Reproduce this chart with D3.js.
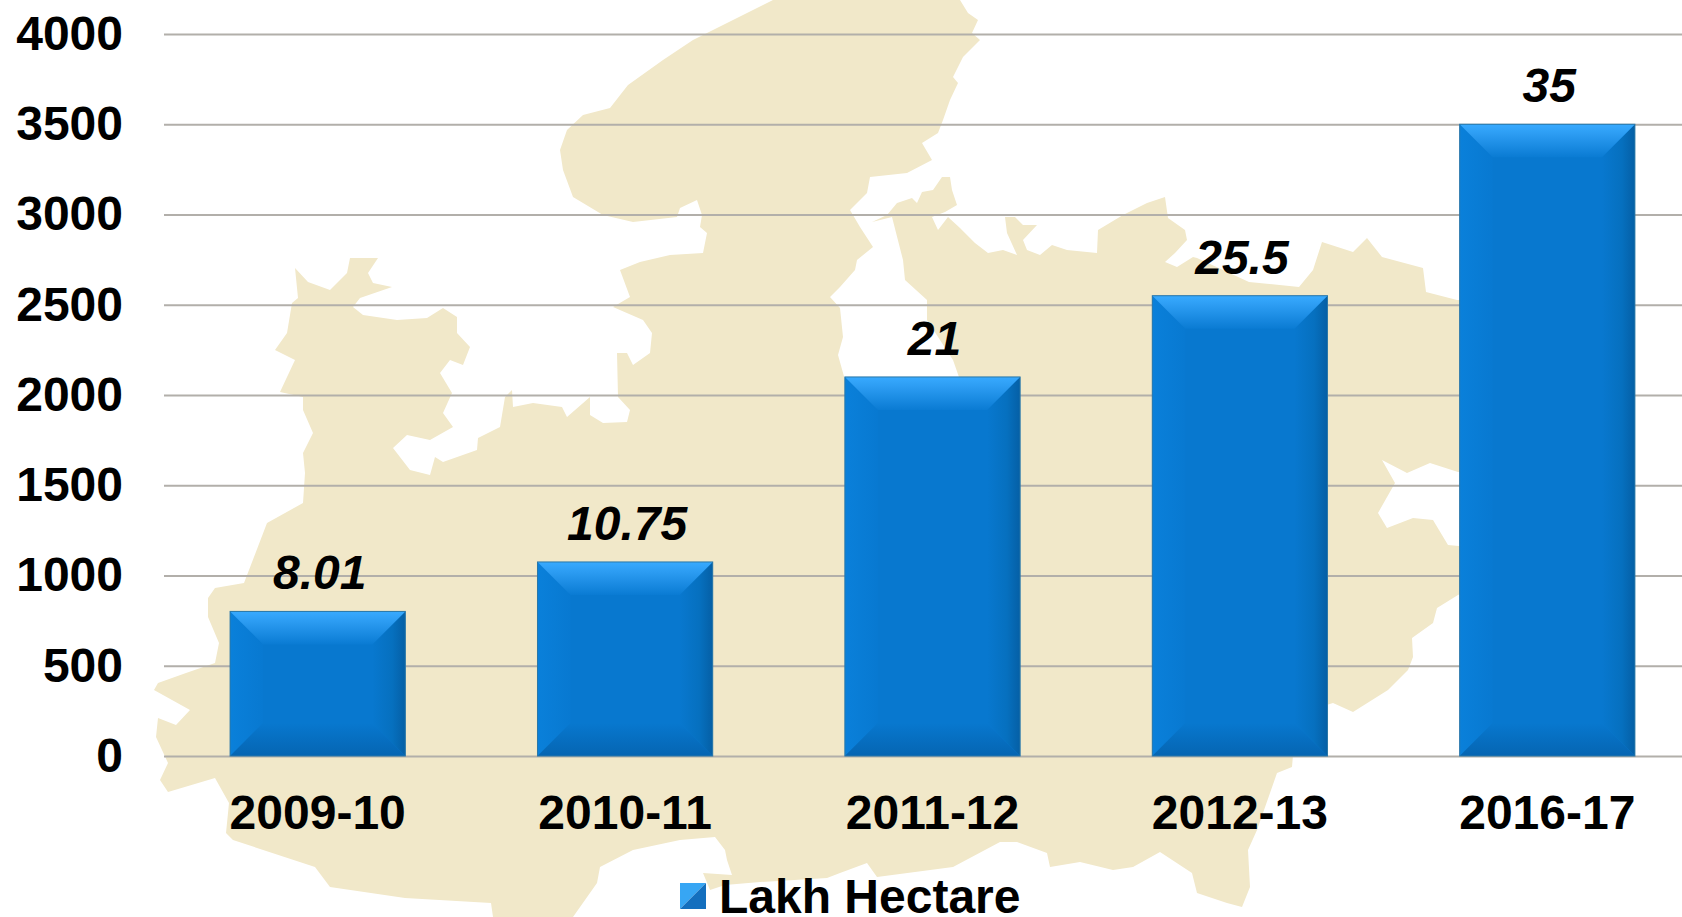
<!DOCTYPE html>
<html>

<head>
  <meta charset="UTF-8">
  <script src="https://d3js.org/d3.v7.js"></script>
  <style>
    html, body { margin: 0; padding: 0; background: #fff; overflow: hidden; }
    text { font-family: "Liberation Sans", Arial, sans-serif; font-weight: bold; fill: #000; }
  </style>
</head>

<body>
  <div id="chart"></div>

  <script>
    // data

    const years = ["2009-10", "2010-11", "2011-12", "2012-13", "2016-17"];
    const barValues = [801, 1075, 2100, 2550, 3500];
    const barLabels = ["8.01", "10.75", "21", "25.5", "35"];
    const yTicks = [0, 500, 1000, 1500, 2000, 2500, 3000, 3500, 4000];
    const seriesName = "Lakh Hectare";

    // backdrop map, traced in page pixels
    const mapOutline = [
      [960,0],[968,13],[978,20],[972,33],[980,40],[963,57],[953,77],[958,83],[950,100],[943,120],[938,133],
      [922,143],[932,160],[907,173],[870,177],[867,193],[850,210],[860,227],[873,247],[857,260],[855,270],
      [840,287],[830,297],[840,308],[843,337],[838,355],[845,380],[960,380],[953,360],[927,320],[927,300],
      [905,280],[903,260],[892,217],[872,222],[887,215],[897,203],[912,198],[917,203],[922,192],[933,190],
      [942,177],[950,177],[952,190],[957,205],[945,212],[932,217],[938,230],[948,217],[960,228],[970,238],
      [975,243],[988,253],[1003,250],[1017,255],[1007,233],[1005,217],[1015,217],[1023,225],[1037,225],
      [1023,240],[1027,250],[1040,255],[1052,245],[1067,250],[1097,253],[1098,230],[1123,215],[1147,203],
      [1165,197],[1168,218],[1185,230],[1187,240],[1175,253],[1165,262],[1177,267],[1193,257],[1197,258],
      [1249,282],[1299,287],[1313,270],[1322,242],[1353,252],[1367,238],[1382,257],[1423,268],[1426,292],
      [1457,300],[1470,300],[1470,472],[1458,472],[1430,463],[1407,473],[1382,460],[1395,483],[1378,513],
      [1387,528],[1413,518],[1433,520],[1448,545],[1470,547],[1470,590],[1458,595],[1437,608],[1433,623],
      [1412,638],[1413,657],[1408,670],[1388,690],[1353,712],[1333,703],[1320,707],[1293,755],[1292,767],
      [1277,773],[1270,793],[1257,830],[1248,850],[1250,887],[1242,907],[1227,903],[1197,893],[1192,873],
      [1160,852],[1133,867],[1113,870],[1080,862],[1050,867],[1047,853],[1017,842],[1000,842],[953,867],
      [877,877],[867,863],[840,873],[827,878],[760,882],[725,885],[710,890],[703,873],[732,875],[727,860],
      [725,850],[715,837],[680,840],[633,850],[600,867],[597,883],[573,917],[493,917],[491,903],[405,898],
      [330,887],[315,867],[233,840],[226,833],[229,803],[215,778],[168,792],[160,780],[168,763],[156,737],
      [158,718],[176,725],[190,710],[172,700],[154,690],[158,683],[186,673],[215,663],[219,643],[208,617],
      [208,598],[215,588],[244,583],[267,523],[303,503],[305,473],[303,453],[313,433],[303,410],[303,397],
      [280,392],[295,360],[275,350],[287,333],[292,303],[298,298],[295,268],[308,282],[330,290],[347,273],
      [350,258],[378,258],[368,273],[373,283],[392,287],[360,298],[353,307],[363,315],[397,320],[427,318],
      [443,308],[457,317],[457,333],[470,347],[463,365],[450,360],[440,373],[452,393],[443,413],[453,427],
      [430,440],[407,435],[393,448],[410,470],[430,475],[435,457],[443,462],[477,450],[478,438],[500,427],
      [505,397],[512,390],[513,407],[533,403],[562,407],[567,417],[590,397],[590,415],[603,423],[627,422],
      [630,410],[618,397],[617,353],[627,353],[633,365],[650,353],[652,333],[643,320],[613,307],[630,297],
      [620,270],[640,262],[670,255],[703,253],[707,233],[700,227],[702,215],[697,200],[680,208],[677,217],
      [633,222],[603,215],[573,197],[563,170],[560,150],[567,130],[583,115],[610,108],[628,85],[663,60],
      [693,40],[713,30],[743,15],[773,0]
    ];

    // set up

    const width = 1682;
    const height = 917;
    const fontSize = 48;
    const bevel = 33;

    const svg = d3.select('#chart')
      .append('svg')
        .attr('width', width)
        .attr('height', height)
        .style('display', 'block');

    // scales

    // the last band runs past the right edge of the page, as in the original
    const x = d3.scaleBand()
        .domain(years)
        .range([164, 1701])
        .paddingInner(0.43)
        .paddingOuter(0.215);

    const y = d3.scaleLinear()
        .domain([0, 4000])
        .range([756, 34]);

    // gradients for the bevelled bars

    const defs = svg.append('defs');

    function addGradient(id, x2, y2, stops) {
      const g = defs.append('linearGradient')
          .attr('id', id)
          .attr('x1', 0).attr('y1', 0)
          .attr('x2', x2).attr('y2', y2);
      stops.forEach(s => g.append('stop').attr('offset', s[0]).attr('stop-color', s[1]));
    }

    addGradient('bevelTop', 0, 1, [[0, '#38aaff'], [0.3, '#2c9cf2'], [1, '#0a7bd3']]);
    addGradient('bevelBottom', 0, 1, [[0, '#0878cf'], [1, '#0565b2']]);
    addGradient('bevelLeft', 1, 0, [[0, '#0a80da'], [1, '#0879d1']]);
    addGradient('bevelRight', 1, 0, [[0, '#0878cf'], [0.6, '#0670bf'], [1, '#055fa5']]);

    // backdrop map

    svg.append('path')
        .attr('d', d3.line()(mapOutline) + 'Z')
        .attr('fill', '#f1e8c9');

    // axes

    svg.append('g')
        .attr('transform', 'translate(164,0)')
        .call(d3.axisLeft(y).tickValues(yTicks).tickFormat(d3.format('d')).tickSize(-(width - 164)).tickPadding(41))
        .call(g => g.select('.domain').remove())
        .call(g => g.selectAll('line').attr('stroke', '#b2afaa').attr('stroke-width', 2))
        .call(g => g.selectAll('text').style('font-size', fontSize + 'px').attr('fill', '#000'));

    svg.append('g')
        .attr('transform', 'translate(0,756)')
        .call(d3.axisBottom(x).tickSize(0).tickPadding(39))
        .call(g => g.select('.domain').remove())
        .call(g => g.selectAll('text').style('font-size', fontSize + 'px').attr('fill', '#000'));

    // draw bars

    const bw = x.bandwidth();

    const bars = svg.append('g')
      .selectAll('g')
      .data(years)
      .join('g')
        .attr('transform', (d, i) => `translate(${x(d)},${y(barValues[i])})`);

    bars.each(function(d, i) {
      const h = y(0) - y(barValues[i]);
      const g = d3.select(this);

      g.append('rect')
          .attr('width', bw)
          .attr('height', h)
          .attr('fill', '#0878cf');

      const faces = [
        ['bevelLeft', [[0, 0], [bevel, bevel], [bevel, h - bevel], [0, h]]],
        ['bevelRight', [[bw, 0], [bw - bevel, bevel], [bw - bevel, h - bevel], [bw, h]]],
        ['bevelBottom', [[0, h], [bevel, h - bevel], [bw - bevel, h - bevel], [bw, h]]],
        ['bevelTop', [[0, 0], [bevel, bevel], [bw - bevel, bevel], [bw, 0]]]
      ];

      faces.forEach(f => {
        g.append('polygon')
            .attr('points', f[1].map(p => p.join(',')).join(' '))
            .attr('fill', `url(#${f[0]})`);
      });

      g.append('rect')
          .attr('width', bw)
          .attr('height', h)
          .attr('fill', 'none')
          .attr('stroke', '#2b78a8')
          .attr('stroke-width', 1);
    });

    // value labels

    svg.append('g')
      .selectAll('text')
      .data(years)
      .join('text')
        .attr('x', d => x(d) + bw / 2 + 2)
        .attr('y', (d, i) => y(barValues[i]) - 22)
        .attr('text-anchor', 'middle')
        .style('font-size', fontSize + 'px')
        .style('font-style', 'italic')
        .text((d, i) => barLabels[i]);

    // legend

    const legend = svg.append('g').attr('transform', 'translate(680,883)');

    legend.append('polygon')
        .attr('points', '0,0 26,0 0,26')
        .attr('fill', '#37a6f4');

    legend.append('polygon')
        .attr('points', '26,0 26,26 0,26')
        .attr('fill', '#146fbe');

    legend.append('text')
        .attr('x', 39)
        .attr('y', 30)
        .style('font-size', fontSize + 'px')
        .text(seriesName);

  </script>
</body>

</html>
